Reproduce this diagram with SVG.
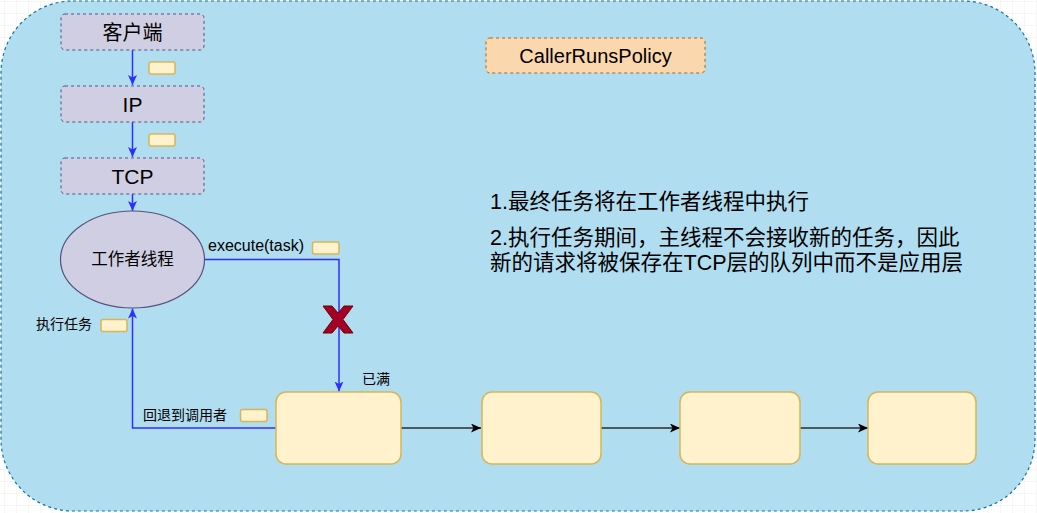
<svg xmlns="http://www.w3.org/2000/svg" width="1037" height="513" viewBox="0 0 1037 513">
<defs>
<pattern id="grid" x="4" y="1" width="12" height="12" patternUnits="userSpaceOnUse">
<path d="M0,0 H12 M0,0 V12" fill="none" stroke="#eeeeee" stroke-width="1"/>
</pattern>
<marker id="arrB" viewBox="0 0 10 9" refX="10" refY="4.5" markerWidth="10" markerHeight="9" markerUnits="userSpaceOnUse" orient="auto">
<path d="M0,0 L10,4.5 L0,9 L2.5,4.5 Z" fill="#2f2fff"/>
</marker>
<marker id="arrK" viewBox="0 0 10 9" refX="10" refY="4.5" markerWidth="10" markerHeight="9" markerUnits="userSpaceOnUse" orient="auto">
<path d="M0,0 L10,4.5 L0,9 L2.5,4.5 Z" fill="#000000"/>
</marker>
</defs>
<style>
text{font-family:"Liberation Sans","Noto Sans CJK SC",sans-serif;fill:#000}
.layer{fill:#d0cee2;stroke:#56517e;stroke-width:1;stroke-dasharray:3 3}
.q{fill:#fff2cc;stroke:#d6b656;stroke-width:1.5}
.lbl{fill:#fff2cc;stroke:#d6b656;stroke-width:1.5}
.blue{fill:none;stroke:#2f2fff;stroke-width:1.5;marker-end:url(#arrB)}
.blk{fill:none;stroke:#2b2b2b;stroke-width:1.5;marker-end:url(#arrK)}
.c{text-anchor:middle}
</style>
<rect x="0" y="0" width="1037" height="513" fill="#ffffff"/>
<rect x="0" y="0" width="1037" height="513" fill="url(#grid)"/>
<g id="container">
<rect x="1" y="1" width="1034" height="510" rx="72" ry="72" fill="#b1ddf0" stroke="#10739e" stroke-width="1.2" stroke-dasharray="3 3"/>
</g>
<g id="connectors">
<path class="blue" d="M132.5,50 L132.5,85"/>
<path class="blue" d="M132.5,122 L132.5,157"/>
<path class="blue" d="M132.5,194 L132.5,211"/>
<path class="blue" d="M204,259.5 L339,259.5 L339,391.5"/>
<path class="blue" d="M276,428 L132.5,428 L132.5,308.5"/>
<path class="blk" d="M401,428 L481,428"/>
<path class="blk" d="M601,428 L680,428"/>
<path class="blk" d="M800,428 L868,428"/>
<rect class="lbl" x="149" y="62" width="26" height="12" rx="2"/>
<rect class="lbl" x="149" y="134" width="26" height="12" rx="2"/>
<rect class="lbl" x="312.5" y="242" width="26.5" height="12" rx="2"/>
<rect class="lbl" x="101" y="319.5" width="26" height="12" rx="2"/>
<rect class="lbl" x="240.5" y="409.5" width="26.5" height="12" rx="2"/>
<text x="208" y="251" font-size="16">execute(task)</text>
<text x="36" y="329" font-size="14">执行任务</text>
<text x="143" y="420" font-size="14">回退到调用者</text>
<text x="362" y="384" font-size="14">已满</text>
<polygon points="323,306 332,306 338,313 344,306 353,306 343,319.5 353,333 344,333 338,326 332,333 323,333 333,319.5" fill="#a20025" stroke="#6f0000" stroke-width="1"/>
</g>
<g id="client">
<rect class="layer" x="61" y="14" width="143" height="36" rx="4"/>
<text class="c" x="132.5" y="40" font-size="20">客户端</text>
</g>
<g id="ip">
<rect class="layer" x="61" y="86" width="143" height="36" rx="4"/>
<text class="c" x="132.5" y="112" font-size="21">IP</text>
</g>
<g id="tcp">
<rect class="layer" x="61" y="158" width="143" height="36" rx="4"/>
<text class="c" x="132.5" y="184" font-size="21">TCP</text>
</g>
<g id="worker">
<ellipse cx="132.5" cy="259.5" rx="72" ry="48.5" fill="#d0cee2" stroke="#56517e" stroke-width="1.2"/>
<text class="c" x="132.5" y="265" font-size="16.5">工作者线程</text>
</g>
<g id="policy">
<rect x="486" y="38" width="219" height="35" rx="4" fill="#fad7ac" stroke="#b46504" stroke-width="1" stroke-dasharray="3 3"/>
<text class="c" x="595.5" y="63" font-size="20">CallerRunsPolicy</text>
</g>
<g id="notes">
<text x="490" y="209" font-size="21.5">1.最终任务将在工作者线程中执行</text>
<text x="490" y="245" font-size="21.5">2.执行任务期间，主线程不会接收新的任务，因此</text>
<text x="490" y="270" font-size="21.5">新的请求将被保存在TCP层的队列中而不是应用层</text>
</g>
<g id="queue1"><rect class="q" x="276" y="392" width="125" height="72" rx="10"/></g>
<g id="queue2"><rect class="q" x="482" y="392" width="119" height="72" rx="10"/></g>
<g id="queue3"><rect class="q" x="680" y="392" width="120" height="72" rx="10"/></g>
<g id="queue4"><rect class="q" x="868" y="392" width="108" height="72" rx="10"/></g>
</svg>
